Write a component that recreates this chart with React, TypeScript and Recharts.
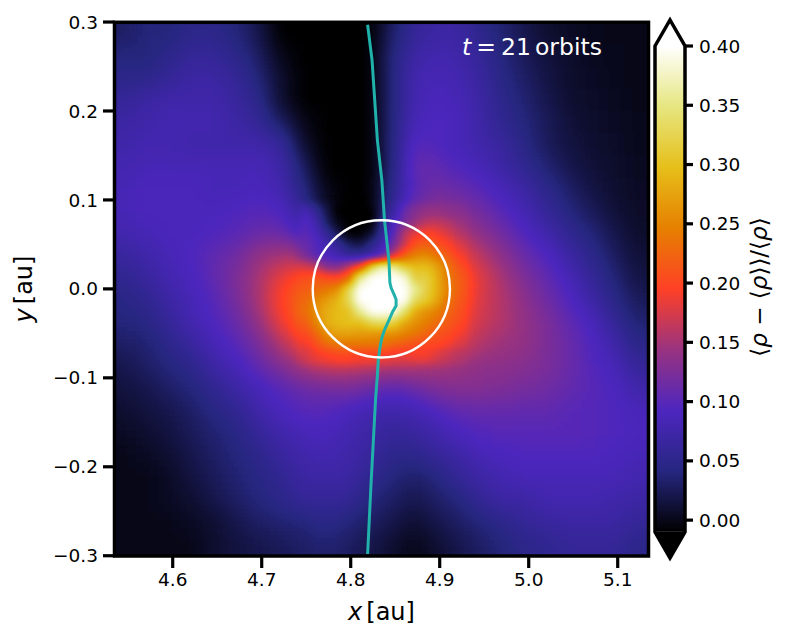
import React from "react";
import {
  Label,
  ReferenceDot,
  Scatter,
  ScatterChart,
  XAxis,
  YAxis,
  ZAxis,
} from "recharts";

// density field, in hundredths, rows run top to bottom
const coarseX = [
  4.546, 4.571, 4.596, 4.621, 4.646, 4.671, 4.696, 4.721, 4.746, 4.771, 4.796, 4.821,
  4.846, 4.871, 4.896, 4.921, 4.946, 4.971, 4.996, 5.021, 5.046, 5.071, 5.096, 5.121,
];
const coarseY = [
  0.2875, 0.2625, 0.2375, 0.2125, 0.1875, 0.1625, 0.1375, 0.1125, 0.0875, 0.0625, 0.0375, 0.0125,
  -0.0125, -0.0375, -0.0625, -0.0875, -0.1125, -0.1375, -0.1625, -0.1875, -0.2125, -0.2375, -0.2625, -0.2875,
];
const coarseValues = [
  [3, 4, 4, 5, 5, 4, 2, -1, -1, -1, -1, -1, 3, 6, 7, 7, 5, 3.5, 2, 1, 0.5, 0.2, 0, 0],
  [4, 4, 5, 6, 6, 5, 3, 0, -1, -1, -1, -1, 4, 7, 8, 7.5, 6, 4, 2.5, 1.4, 0.7, 0.3, 0.1, 0],
  [5, 5, 6, 7, 7, 6, 4, 1, -1, -1, -1, -1, 4, 8, 8.5, 8, 6.5, 4.5, 3, 1.7, 0.8, 0.5, 0.2, 0],
  [6, 7, 7.5, 7.5, 7.5, 6.5, 5, 1, -1, -1, -1, -1, 4, 8, 9, 8.5, 7, 5, 3.5, 2, 1, 0.6, 0.3, 0],
  [7, 7.5, 8, 8, 8, 7, 6, 3, 0, -1, -1, -1, 4, 8.5, 9.5, 9, 7, 5.5, 4, 2.5, 1.2, 0.7, 0.4, 0.1],
  [7.5, 8, 8, 7.5, 7.5, 7.5, 7.5, 6.5, 1, -1, -1, -1, 4, 10, 9.5, 8.5, 7.5, 6.5, 4.5, 2.5, 1.5, 1, 0.6, 0.2],
  [8, 8.5, 8.5, 8.5, 8.5, 8.5, 8.5, 7.5, 3, -1, -1, -1, 4, 11, 10.5, 9.5, 8.5, 7, 5.5, 3.5, 2, 1.2, 0.7, 0.3],
  [8.5, 9, 9, 9, 8.5, 8.5, 9, 8, 4.5, 0, -1, -1, 5, 10, 11.5, 11, 10, 8.5, 7, 5, 3, 1.8, 1, 0.4],
  [8.5, 9, 9, 9, 9, 9.5, 10, 9.5, 6, 1, -1, -1, 6, 12, 13.5, 13, 11.5, 10, 8, 6, 4, 2.5, 1.2, 0.6],
  [8, 8.5, 9, 9, 9.5, 10, 11, 11, 8.5, 3, 0, 3, 9, 16, 18, 15.5, 13.5, 11.5, 9.5, 7.5, 5.5, 3.8, 2, 0.8],
  [6.5, 7.5, 8.5, 9.5, 10.5, 11.5, 14, 15, 15, 10, 6, 7, 14, 25, 23, 19, 16, 13.5, 11, 9.5, 7, 5, 2.8, 1.2],
  [5.5, 6.5, 8, 9, 10.5, 12.5, 15, 18.5, 21, 22, 28, 42, 38, 30, 28, 21.5, 18, 15, 12.5, 10.5, 8.5, 6, 3.8, 1.8],
  [4.5, 5.5, 7, 8.5, 10, 12, 15, 19.5, 23, 27, 36, 44, 40, 30, 27, 21, 17.5, 15.5, 13.5, 11.5, 9.5, 7.2, 4.8, 2.5],
  [4, 4.5, 6, 8, 9.5, 11, 14, 18.5, 22.5, 29, 30, 28, 27, 26, 23, 19.5, 17, 15.5, 14, 12.3, 10.5, 8.8, 6, 3.5],
  [3, 3.5, 5, 6.5, 8.5, 10, 12, 15.5, 19, 23, 24, 24, 22.5, 20.5, 19.5, 17.5, 15.5, 14.5, 14, 12.3, 11, 9.5, 7.5, 4.8],
  [2, 3, 4, 5, 7, 8.5, 10.5, 12.5, 15, 16.5, 16.5, 16, 15.5, 15.5, 15, 14.5, 13.5, 13.5, 13, 12.3, 11, 9.8, 8.8, 6.2],
  [1.5, 2, 3, 4, 5.5, 7, 8.5, 10, 11, 11.5, 12, 11, 10, 11, 12.5, 13, 13, 12.5, 12, 11.5, 10.8, 10, 9.3, 7.5],
  [1, 1.5, 2, 3, 4.5, 5.5, 7.5, 9, 10, 10, 9, 8, 7.5, 8, 9.5, 10.5, 10.8, 10.8, 10.5, 10.5, 10, 9.8, 9.5, 8.8],
  [0.5, 1, 1.5, 2.5, 3.5, 4.5, 6, 7.5, 8.5, 9, 8, 7, 6, 6.5, 7.5, 9, 9.8, 10, 10, 10, 10, 9.8, 9.5, 9],
  [0, 0.5, 1, 2, 3, 4, 5, 6.5, 7.5, 8, 7.5, 6.5, 5, 5, 6, 7, 8.5, 9, 9.5, 9.5, 9.5, 9.5, 9, 8.5],
  [0, 0, 0.5, 1.5, 2.5, 3.5, 4.5, 5.5, 7, 7, 7, 5.5, 4, 3, 4, 6, 7, 8, 8.5, 8.5, 8.5, 8.5, 8.5, 8],
  [0, 0, 0.5, 1, 2, 3, 4, 5, 6, 6, 6, 4, 3, 2, 3, 4, 6, 7, 7, 8, 8, 8, 7.5, 7],
  [0, 0, 0, 0.5, 1, 2, 3, 3.5, 4, 5, 4, 3, 2, 1, 2, 3, 4, 5, 6, 6.5, 7, 7, 7, 6],
  [0, 0, 0, 0, 1, 1.5, 2, 2.5, 3, 3.5, 3, 2, 1, 0, 1, 2, 3, 4, 5, 5.5, 6, 6, 6, 5],
];

// finer patch round the planet
const fineX = [
  4.748, 4.7605, 4.773, 4.7855, 4.798, 4.8105, 4.823, 4.8355, 4.848, 4.8605, 4.873, 4.8855, 4.898, 4.9105, 4.923,
];
const fineY = [
  0.0872, 0.0747, 0.0622, 0.0497, 0.0372, 0.0247, 0.0122, -0.0003, -0.0128, -0.0253, -0.0378, -0.0503, -0.0628, -0.0753,
];
const fineValues = [
  [9, 6, 2, -1, -1, -1, -1, 3, 7, 11, 13, 14, 14, 13.5, 13],
  [10, 8, 3, 0, -1, -1, -1, 5, 9, 12, 14.5, 16, 16.5, 15.5, 14.5],
  [10.5, 9, 6, 2, -1, -1, 1, 6, 10, 16, 18.5, 20, 19, 17.5, 15.5],
  [11, 10, 8, 6, 3, 2, 5, 8, 12, 17, 21, 22, 21, 19.5, 17.5],
  [12.5, 10, 9, 8, 6, 6, 7, 10, 17, 22, 25, 25.5, 23.5, 21.5, 19],
  [17.5, 16.5, 13, 12.5, 16, 20, 32, 38, 36, 31, 29.5, 29.5, 27.5, 23.5, 20.5],
  [20.5, 21.5, 20.5, 20, 23, 36, 41, 41, 41, 39, 31.5, 32, 28.5, 24, 21.5],
  [21.5, 23, 24, 26, 33, 41, 41, 41, 41, 41, 36, 32, 28.5, 24.5, 21.5],
  [22.5, 25, 27, 29, 33, 41, 41, 41, 41, 41, 33, 31, 27.5, 23.5, 21],
  [23, 26, 28.5, 29.5, 30, 36, 41, 41, 41, 34, 28, 26, 24.5, 22.5, 20.5],
  [21.5, 25, 28.5, 29.5, 30, 30, 33, 34, 32, 28, 26, 24.5, 23, 21.5, 20],
  [20, 22.5, 26, 27.5, 27.5, 27, 26.5, 26, 26, 25, 24, 22.5, 21, 20.5, 19],
  [18.5, 20.5, 23, 24, 24, 24, 24, 24, 22.5, 21.5, 20.5, 20, 20, 19, 17.5],
  [17, 18.5, 19, 19.5, 19.5, 19, 19, 18.5, 18, 18, 19, 19, 17.5, 16.5, 15.5],
];

const streamX = [
  4.819, 4.824, 4.827, 4.83, 4.835, 4.838, 4.843, 4.844, 4.8455, 4.849, 4.851, 4.851, 4.847, 4.843, 4.838, 4.835, 4.833,
  4.831, 4.83, 4.828, 4.823, 4.819,
];
const streamY = [
  0.297, 0.257, 0.212, 0.167, 0.122, 0.077, 0.032, 0.007, 0.001, -0.007, -0.012, -0.019, -0.026, -0.035, -0.046, -0.055,
  -0.065, -0.08, -0.097, -0.123, -0.216, -0.298,
];

const xTicks = [4.6, 4.7, 4.8, 4.9, 5.0, 5.1];
const yTicks = [-0.3, -0.2, -0.1, 0, 0.1, 0.2, 0.3];
const barTicks = [0, 0.05, 0.1, 0.15, 0.2, 0.25, 0.3, 0.35, 0.4];

// CMRmap nodes
const cmapR = [0, 0.15, 0.3, 0.6, 1, 0.9, 0.9, 0.9, 1];
const cmapG = [0, 0.15, 0.15, 0.2, 0.25, 0.5, 0.75, 0.9, 1];
const cmapB = [0, 0.5, 0.75, 0.5, 0.15, 0, 0.1, 0.5, 1];

const vMin = -0.01;
const vMax = 0.4;
const xDomain = [4.5346, 5.1346];
const yDomain = [-0.3003, 0.2997];

const plot = { left: 114.5, right: 648.5, top: 22.3, bottom: 556 };
const pxPerX = (plot.right - plot.left) / (xDomain[1] - xDomain[0]);
const pxPerY = (plot.bottom - plot.top) / (yDomain[1] - yDomain[0]);

const barBox = { left: 655, right: 685, top: 20, bottom: 558 };
const barPx = (520 - 46) / 0.4;
const capPx = 26;
const barDomain = [vMin - capPx / barPx, vMax + capPx / barPx];

const font = "'DejaVu Sans', sans-serif";
const tickStyle = { fill: "#000", fontSize: 18.5, fontFamily: font };
const tickLine = { stroke: "#000", strokeWidth: 3.2 };

const minus = (s: string) => s.replace("-", "\u2212");

function toCells(xs: number[], ys: number[], rows: number[][]) {
  return rows.flatMap((row, j) =>
    row.map((v, i) => ({ x: xs[i], y: ys[j], v: v / 100, i, j }))
  );
}
const coarseCells = toCells(coarseX, coarseY, coarseValues);
const fineCells = toCells(fineX, fineY, fineValues);
const stream = streamX.map((x, i) => ({ x, y: streamY[i] }));

// values go in as grey, each layer is blurred, then the wrapper applies the colormap
function grey(v: number) {
  const g = Math.round((Math.min(Math.max(v, vMin), vMax) - vMin) / (vMax - vMin) * 255);
  return `rgb(${g},${g},${g})`;
}

function HeatCell(props: any, stepX: number, stepY: number, nx: number, ny: number, pad: number) {
  const { cx, cy, payload } = props;
  const w = stepX * pxPerX;
  const h = stepY * pxPerY;
  const overL = pad && payload.i === 0 ? pad : 0;
  const overR = pad && payload.i === nx - 1 ? pad : 0;
  const overT = pad && payload.j === 0 ? pad : 0;
  const overB = pad && payload.j === ny - 1 ? pad : 0;
  return (
    <rect
      x={cx - w / 2 - overL}
      y={cy - h / 2 - overT}
      width={w + overL + overR}
      height={h + overT + overB}
      fill={grey(payload.v)}
      shapeRendering="crispEdges"
    />
  );
}

// reference dots are not clipped, so the spines keep their whole width
function Frame(props: any) {
  const { cx, cy } = props;
  return (
    <rect
      x={cx}
      y={cy}
      width={plot.right - plot.left}
      height={plot.bottom - plot.top}
      fill="none"
      stroke="#000"
      strokeWidth={3.5}
    />
  );
}

function Filters() {
  const table = (vals: number[]) => vals.join(" ");
  return (
    <svg width={0} height={0} style={{ position: "absolute" }}>
      <defs>
        <filter id="blurCoarse" filterUnits="userSpaceOnUse" x={-100} y={-100} width={1000} height={900} colorInterpolationFilters="sRGB">
          <feGaussianBlur stdDeviation={10} />
        </filter>
        <filter id="blurFine" filterUnits="userSpaceOnUse" x={-100} y={-100} width={1000} height={900} colorInterpolationFilters="sRGB">
          <feGaussianBlur stdDeviation={5} />
        </filter>
        <filter id="cmap" x="0" y="0" width="100%" height="100%" colorInterpolationFilters="sRGB">
          <feComponentTransfer>
            <feFuncR type="table" tableValues={table(cmapR)} />
            <feFuncG type="table" tableValues={table(cmapG)} />
            <feFuncB type="table" tableValues={table(cmapB)} />
          </feComponentTransfer>
        </filter>
        <linearGradient id="cbar" x1="0" y1="1" x2="0" y2="0">
          {cmapR.map((r, i) => (
            <stop
              key={i}
              offset={i / (cmapR.length - 1)}
              stopColor={`rgb(${r * 255},${cmapG[i] * 255},${cmapB[i] * 255})`}
            />
          ))}
        </linearGradient>
      </defs>
    </svg>
  );
}

function BarStrip(props: any) {
  const { cx, cy } = props;
  return <rect x={cx} y={cy} width={barBox.right - barBox.left} height={(vMax - vMin) * barPx} fill="url(#cbar)" />;
}

function BarCaps(props: any) {
  const { cx: x, cy: y } = props;
  const w = barBox.right - barBox.left;
  const s = capPx;
  const h = barBox.bottom - barBox.top;
  return (
    <g>
      <path d={`M${x},${y + s}L${x + w / 2},${y}L${x + w},${y + s}Z`} fill="#fff" />
      <path d={`M${x},${y + h - s}L${x + w / 2},${y + h}L${x + w},${y + h - s}Z`} fill="#000" />
      <path
        d={`M${x},${y + s}L${x + w / 2},${y}L${x + w},${y + s}V${y + h - s}L${x + w / 2},${y + h}L${x},${y + h - s}Z`}
        fill="none"
        stroke="#000"
        strokeWidth={3.5}
      />
    </g>
  );
}

export default function App() {
  return (
    <div style={{ position: "absolute", left: 0, top: 0, width: 789, height: 640, background: "#fff" }}>
      <style>{`
        .heat-coarse { filter: url(#blurCoarse); }
        .heat-fine { filter: url(#blurFine); }
      `}</style>
      <Filters />

      {/* the field on its own, so the colormap filter touches nothing else */}
      <div style={{ position: "absolute", left: 0, top: 0, width: 789, height: 640, filter: "url(#cmap)" }}>
        <ScatterChart
          width={789}
          height={640}
          margin={{ top: plot.top, right: 789 - plot.right, bottom: 640 - plot.bottom, left: plot.left }}
        >
          <XAxis type="number" dataKey="x" domain={xDomain} allowDataOverflow hide />
          <YAxis type="number" dataKey="y" domain={yDomain} allowDataOverflow hide />
          <ZAxis range={[1, 1]} />
          <Scatter
            data={coarseCells}
            className="heat-coarse"
            isAnimationActive={false}
            shape={(p: any) => HeatCell(p, 0.025, 0.025, coarseX.length, coarseY.length, 60)}
          />
          <Scatter
            data={fineCells}
            className="heat-fine"
            isAnimationActive={false}
            shape={(p: any) => HeatCell(p, 0.0125, 0.0125, fineX.length, fineY.length, 0)}
          />
        </ScatterChart>
      </div>

      <div style={{ position: "absolute", left: 0, top: 0 }}>
        <ScatterChart
          width={789}
          height={640}
          margin={{ top: plot.top, right: 789 - plot.right, bottom: 0, left: 0 }}
        >
          <XAxis
            type="number"
            dataKey="x"
            domain={xDomain}
            ticks={xTicks}
            allowDataOverflow
            height={640 - plot.bottom}
            tick={tickStyle}
            tickLine={tickLine}
            axisLine={false}
            tickSize={12}
            tickMargin={5}
            tickFormatter={(v: number) => v.toFixed(1)}
          >
            <Label
              content={() => (
                <text x={381.5} y={620} textAnchor="middle" fontFamily={font} fontSize={24} fill="#000">
                  <tspan fontStyle="italic">x</tspan>
                  <tspan dx={4}>[au]</tspan>
                </text>
              )}
            />
          </XAxis>
          <YAxis
            type="number"
            dataKey="y"
            domain={yDomain}
            ticks={yTicks}
            allowDataOverflow
            width={plot.left}
            tick={tickStyle}
            tickLine={tickLine}
            axisLine={false}
            tickSize={11.5}
            tickMargin={5}
            tickFormatter={(v: number) => minus(v.toFixed(1))}
          >
            <Label
              content={() => (
                <text transform="translate(32,289) rotate(-90)" textAnchor="middle" fontFamily={font} fontSize={24} fill="#000">
                  <tspan fontStyle="italic">y</tspan>
                  <tspan dx={4}>[au]</tspan>
                </text>
              )}
            />
          </YAxis>
          <ZAxis range={[1, 1]} />
          <Scatter
            data={stream}
            isAnimationActive={false}
            line={{ stroke: "#20b2aa", strokeWidth: 3 }}
            shape={() => <g />}
          />
          <ReferenceDot x={xDomain[0]} y={yDomain[1]} ifOverflow="visible" shape={Frame} />
          <ReferenceDot x={4.8344} y={0} r={68.6} fill="none" stroke="#fff" strokeWidth={2.4} />
          <ReferenceDot
            x={4.96}
            y={0.271}
            r={0}
            label={() => (
              <text x={532} y={55} textAnchor="middle" fontFamily={font} fontSize={23.5} fill="#fff">
                <tspan fontStyle="italic">t</tspan>
                <tspan dx={5}>=</tspan>
                <tspan dx={5}>21</tspan>
                <tspan dx={4}>orbits</tspan>
              </text>
            )}
          />
        </ScatterChart>
      </div>

      <div style={{ position: "absolute", left: 0, top: 0 }}>
        <ScatterChart
          width={789}
          height={640}
          margin={{ top: barBox.top, right: 0, bottom: 640 - barBox.bottom, left: barBox.left }}
        >
          <XAxis type="number" dataKey="x" domain={[0, 1]} hide />
          <YAxis
            type="number"
            dataKey="y"
            orientation="right"
            domain={barDomain}
            ticks={barTicks}
            allowDataOverflow
            width={789 - barBox.right}
            tick={tickStyle}
            tickLine={tickLine}
            axisLine={false}
            tickSize={8}
            tickMargin={6}
            tickFormatter={(v: number) => v.toFixed(2)}
          >
            <Label
              content={() => (
                <text transform="translate(767,287) rotate(-90)" textAnchor="middle" fontFamily={font} fontSize={23} fill="#000">
                  <tspan>⟨</tspan>
                  <tspan fontStyle="italic">ρ</tspan>
                  <tspan> − ⟨</tspan>
                  <tspan fontStyle="italic">ρ</tspan>
                  <tspan>⟩⟩/⟨</tspan>
                  <tspan fontStyle="italic">ρ</tspan>
                  <tspan>⟩</tspan>
                </text>
              )}
            />
          </YAxis>
          <ZAxis range={[1, 1]} />
          <Scatter data={[{ x: 0, y: vMax }]} isAnimationActive={false} shape={BarStrip} />
          <ReferenceDot x={0} y={barDomain[1]} ifOverflow="visible" shape={BarCaps} />
        </ScatterChart>
      </div>
    </div>
  );
}
